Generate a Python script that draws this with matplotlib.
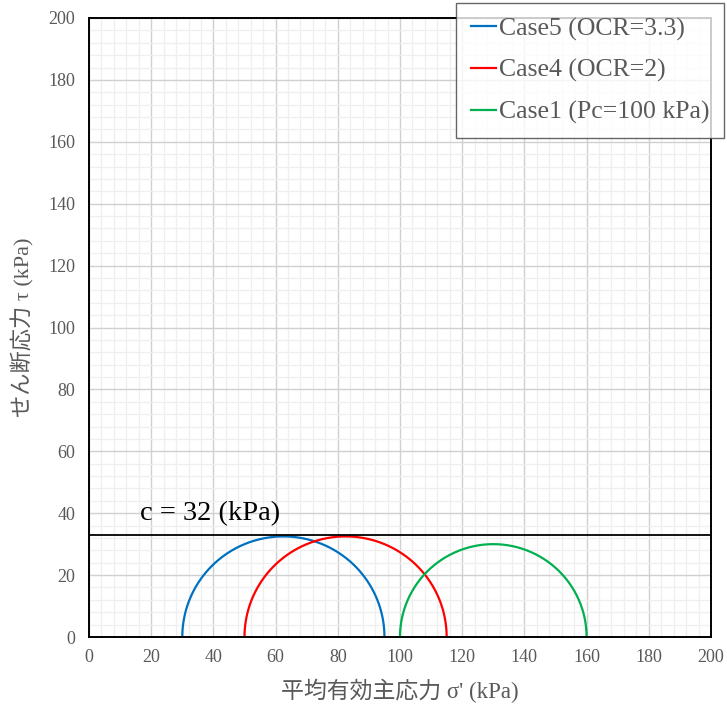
import matplotlib.pyplot as plt
import numpy as np

# Mohr circles: minor / major effective principal stress of each case (kPa)
cases = ['Case5 (OCR=3.3)', 'Case4 (OCR=2)', 'Case1 (Pc=100 kPa)']
sigma3 = [30, 50, 100]
sigma1 = [95, 115, 160]
colors = ['#0070C0', '#FF0000', '#00B050']

# cohesion line
c_line = 33
c_label = 'c = 32 (kPa)'

x_ticks = list(range(0, 201, 20))
y_ticks = list(range(0, 201, 20))

JP_FONT = ['Liberation Serif', 'Noto Sans CJK JP']
GRAY = '#595959'

fig = plt.figure(figsize=(7.27, 7.05), dpi=100)
ax = fig.add_axes([89 / 727, 1 - 637 / 705, 622 / 727, 619 / 705])

theta = np.linspace(0, np.pi, 300)
for name, s3, s1, col in zip(cases, sigma3, sigma1, colors):
    center = (s1 + s3) / 2
    radius = (s1 - s3) / 2
    ax.plot(center + radius * np.cos(theta), radius * np.sin(theta),
            color=col, lw=1.6, label=name)

ax.axhline(c_line, color='black', lw=1.3)
ax.text(16.5, 37.8, c_label, fontsize=20.5, family='Liberation Serif',
        color='black', va='baseline')

ax.set_xlim(0, 200)
ax.set_ylim(0, 200)
ax.set_xticks(x_ticks)
ax.set_yticks(y_ticks)
ax.set_xticks(np.arange(0, 201, 4), minor=True)
ax.set_yticks(np.arange(0, 201, 4), minor=True)
ax.grid(True, which='major', color='#d0d0d0', lw=1.0)
ax.grid(True, which='minor', color='#efefef', lw=0.9)
ax.set_axisbelow(True)
ax.tick_params(which='both', length=0, labelsize=13, labelcolor=GRAY)
ax.tick_params(axis='x', pad=9)
ax.tick_params(axis='y', pad=10)
for lab in ax.get_xticklabels() + ax.get_yticklabels():
    lab.set_family('Liberation Serif')
for sp in ax.spines.values():
    sp.set_color('black')
    sp.set_linewidth(1.4)

ax.set_xlabel("平均有効主応力 σ' (kPa)", family=JP_FONT, fontsize=16.5,
              color=GRAY, labelpad=9)
ax.set_ylabel('せん断応力 τ (kPa)', family=JP_FONT, fontsize=16,
              color=GRAY, labelpad=10)

leg = fig.legend(loc='upper right', bbox_to_anchor=(724 / 727, 1 - 3 / 705),
                 prop={'family': 'Liberation Serif', 'size': 18.5},
                 frameon=True, fancybox=False, edgecolor='#404040',
                 handlelength=1.0, handletextpad=0.12, borderpad=0.55,
                 labelspacing=0.72, borderaxespad=0)
leg.get_frame().set_linewidth(1.0)
for t in leg.get_texts():
    t.set_color(GRAY)
leg.set_zorder(10)

fig.savefig('out.png', dpi=100)
